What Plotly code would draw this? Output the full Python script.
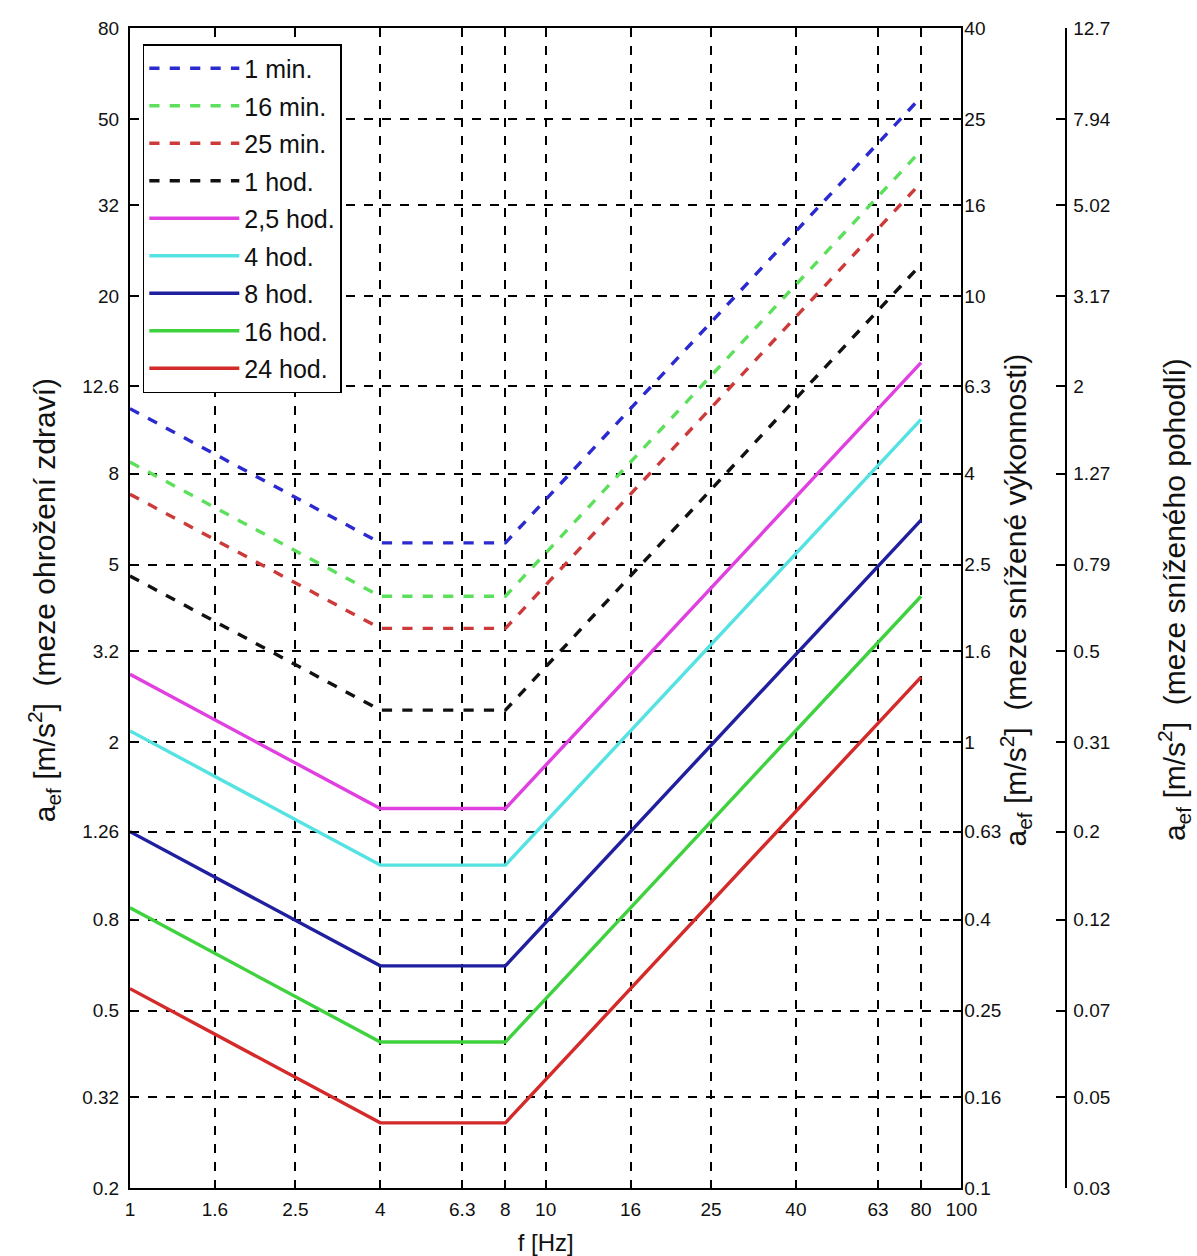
import numpy as np
import plotly.graph_objects as go

# ---------------- data ----------------
freq = [1, 4, 8, 80]  # Hz, break points of each limit curve

series_names = ["1 min.", "16 min.", "25 min.", "1 hod.", "2,5 hod.",
                "4 hod.", "8 hod.", "16 hod.", "24 hod."]

a_1min = [11.2, 5.6, 5.6, 56.0]
a_16min = [8.5, 4.25, 4.25, 42.5]
a_25min = [7.2, 3.6, 3.6, 36.0]
a_1h = [4.72, 2.36, 2.36, 23.6]
a_2_5h = [2.84, 1.42, 1.42, 14.2]
a_4h = [2.12, 1.06, 1.06, 10.6]
a_8h = [1.26, 0.63, 0.63, 6.3]
a_16h = [0.85, 0.425, 0.425, 4.25]
a_24h = [0.56, 0.28, 0.28, 2.8]

series_values = [a_1min, a_16min, a_25min, a_1h, a_2_5h, a_4h, a_8h, a_16h, a_24h]

x_ticks = [1, 1.6, 2.5, 4, 6.3, 8, 10, 16, 25, 40, 63, 80, 100]
x_ticklabels = ["1", "1.6", "2.5", "4", "6.3", "8", "10", "16", "25", "40", "63", "80", "100"]
y_left_ticks = [0.2, 0.32, 0.5, 0.8, 1.26, 2, 3.2, 5, 8, 12.6, 20, 32, 50, 80]
y_left_labels = ["0.2", "0.32", "0.5", "0.8", "1.26", "2", "3.2", "5", "8", "12.6", "20", "32", "50", "80"]
y_mid_ticks = [0.1, 0.16, 0.25, 0.4, 0.63, 1, 1.6, 2.5, 4, 6.3, 10, 16, 25, 40]
y_mid_labels = ["0.1", "0.16", "0.25", "0.4", "0.63", "1", "1.6", "2.5", "4", "6.3", "10", "16", "25", "40"]
y_right_labels = ["0.03", "0.05", "0.07", "0.12", "0.2", "0.31", "0.5", "0.79", "1.27",
                  "2", "3.17", "5.02", "7.94", "12.7"]
mid_factor = 2.0     # health limit / proficiency limit
right_factor = 6.3   # health limit / comfort limit

# ---------------- styles / layout ----------------
colors = ["#2a2ad0", "#5ce05c", "#cc3a3a", "#111111", "#e040e0",
          "#55e2e2", "#1f1fa0", "#3fd23f", "#d42a2a"]
dashes = ["dash", "dash", "dash", "dash", "solid", "solid", "solid", "solid", "solid"]

W, H = 1197, 1256
ML, MT = 130, 28
MB = H - 1188
MR = 0
PW = W - ML - MR
PH = H - MT - MB
PLOT_R = 974               # page x of the right frame


def px_x(px):
    return (px - ML) / PW


def px_y(py):
    return 1 - (py - MT) / PH


FONT = "Arial, Liberation Sans, sans-serif"
TXT = "#111111"

fig = go.Figure()
for name, vals, col, dsh, i in zip(series_names, series_values, colors, dashes, range(9)):
    fig.add_trace(go.Scatter(
        x=freq, y=vals, mode="lines", name=name, legendgroup=f"g{i}",
        line=dict(color=col, width=3.4, dash=dsh),
        xaxis="x", yaxis="y",
    ))
    # same curves expressed on the two right-hand scales (transparent, they only bind the axes)
    fig.add_trace(go.Scatter(
        x=freq, y=[v / mid_factor for v in vals], mode="lines", showlegend=False,
        hoverinfo="skip", opacity=0, line=dict(color=col, width=1),
        xaxis="x", yaxis="y2",
    ))
    fig.add_trace(go.Scatter(
        x=freq, y=[v / right_factor for v in vals], mode="lines", showlegend=False,
        hoverinfo="skip", opacity=0, line=dict(color=col, width=1),
        xaxis="x", yaxis="y3",
    ))

axis_font = dict(family=FONT, size=19, color=TXT)

fig.update_layout(
    width=W, height=H,
    margin=dict(l=ML, r=MR, t=MT, b=MB),
    paper_bgcolor="white", plot_bgcolor="white",
    font=dict(family=FONT, size=19, color=TXT),
    showlegend=True,
    legend=dict(
        x=px_x(143), y=px_y(44), xanchor="left", yanchor="top",
        bgcolor="white", bordercolor="black", borderwidth=1.5,
        font=dict(family=FONT, size=25, color=TXT),
        tracegroupgap=2, itemwidth=90,
    ),
    xaxis=dict(
        type="log", range=[0, 2], domain=[0, px_x(PLOT_R)],
        tickvals=x_ticks, ticktext=x_ticklabels,
        ticks="inside", ticklen=8, tickwidth=1.5, tickcolor="black",
        showline=True, linecolor="black", linewidth=2, mirror="ticks",
        showgrid=True, gridcolor="black", gridwidth=1.8, griddash="dash",
        zeroline=False, tickfont=axis_font, ticklabelstandoff=3,
        title=dict(text="f [Hz]", font=dict(family=FONT, size=24, color=TXT), standoff=16),
    ),
    yaxis=dict(
        type="log", range=[np.log10(0.2), np.log10(80)],
        tickvals=y_left_ticks, ticktext=y_left_labels,
        ticks="inside", ticklen=8, tickwidth=1.5, tickcolor="black",
        showline=True, linecolor="black", linewidth=2, mirror=True,
        showgrid=True, gridcolor="black", gridwidth=1.8, griddash="dash",
        zeroline=False, tickfont=axis_font, ticklabelstandoff=5,
    ),
    yaxis2=dict(
        type="log", range=[np.log10(0.1), np.log10(40)],
        overlaying="y", side="right", anchor="x",
        tickvals=y_mid_ticks, ticktext=y_mid_labels,
        ticks="inside", ticklen=8, tickwidth=1.5, tickcolor="black",
        showline=False, showgrid=False, zeroline=False,
        tickfont=axis_font, ticklabelstandoff=2,
    ),
    yaxis3=dict(
        type="log",
        range=[np.log10(y_left_ticks[0] / right_factor), np.log10(y_left_ticks[-1] / right_factor)],
        overlaying="y", side="right", anchor="free", position=px_x(1080),
        tickvals=[v / right_factor for v in y_left_ticks], ticktext=y_right_labels,
        ticks="inside", ticklen=9, tickwidth=1.5, tickcolor="black",
        showline=True, linecolor="black", linewidth=1.5,
        showgrid=False, zeroline=False,
        tickfont=axis_font, ticklabelstandoff=3,
    ),
)

title_font = dict(family=FONT, size=30, color=TXT)
ymid = px_y(600)
fig.add_annotation(
    xref="paper", yref="paper", x=px_x(43), y=ymid, xanchor="center", yanchor="middle",
    text="a<sub>ef</sub> [m/s<sup>2</sup>]  (meze ohrožení zdraví)", textangle=-90,
    showarrow=False, font=title_font,
)
fig.add_annotation(
    xref="paper", yref="paper", x=px_x(1029), y=ymid, xanchor="center", yanchor="middle",
    text="a<sub>ef</sub> [m/s<sup>2</sup>]  (meze snížené výkonnosti)", textangle=-90,
    showarrow=False, font=title_font,
)
fig.add_annotation(
    xref="paper", yref="paper", x=px_x(1190), y=ymid, xanchor="center", yanchor="middle",
    text="a<sub>ef</sub> [m/s<sup>2</sup>]  (meze sníženého pohodlí)", textangle=-90,
    showarrow=False, font=title_font,
)

fig.write_html(
    "out.html",
    config={"displayModeBar": False},
    post_script="document.body.style.margin='0';document.body.style.overflow='hidden';",
)
